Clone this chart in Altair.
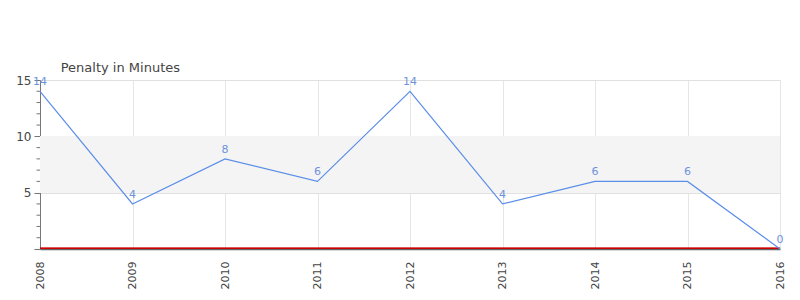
import altair as alt
import pandas as pd

years = [2008, 2009, 2010, 2011, 2012, 2013, 2014, 2015, 2016]
penalty = [14, 4, 8, 6, 14, 4, 6, 6, 0]
y_major = [0, 5, 10, 15]
y_minor = [1, 2, 3, 4, 6, 7, 8, 9, 11, 12, 13, 14]

df = pd.DataFrame({"year": years, "pim": penalty})
minor_df = pd.DataFrame({"v": y_minor})

W, H = 740, 169
line_color = "#5b8ee8"

x_enc = alt.X("year:Q", scale=alt.Scale(domain=[2008, 2016], nice=False, zero=False),
              axis=alt.Axis(values=years, format="d", labelAngle=-90, title=None,
                            labelFontSize=11, labelColor="#444", labelFont="DejaVu Sans",
                            labelAlign="right", labelBaseline="middle", labelPadding=12,
                            grid=True, gridColor="#e6e6e6", ticks=False,
                            domainColor="#666", domainWidth=1.5))
y_scale = alt.Scale(domain=[0, 15], nice=False)
y_axis = alt.Axis(values=y_major, title=None,
                  labelExpr="datum.value > 0 ? datum.label : ''",
                  labelFontSize=12, labelColor="#444", labelFont="DejaVu Sans",
                  labelPadding=3, grid=True, gridColor="#e0e0e0",
                  tickSize=6, tickColor="#777", domainColor="#777")

axis_layer = alt.Chart(df).mark_line(opacity=0).encode(
    x=x_enc,
    y=alt.Y("pim:Q", scale=y_scale, axis=y_axis),
)

band = alt.Chart(df).mark_rect(color="#f4f4f4").encode(
    y=alt.datum(5), y2=alt.datum(10), x=alt.value(0), x2=alt.value(W)
)

minor_ticks = alt.Chart(minor_df).mark_rule(color="#777", strokeWidth=1).encode(
    y="v:Q", x=alt.value(-3.5), x2=alt.value(0)
)

zero_rule = alt.Chart(df).mark_rule(color="#cc0000", strokeWidth=1).encode(
    y=alt.datum(0), x=alt.value(0), x2=alt.value(W), yOffset=alt.value(-0.6)
)

line = alt.Chart(df).mark_line(color=line_color, strokeWidth=1.2).encode(
    x="year:Q", y="pim:Q"
)

labels = alt.Chart(df).mark_text(color="#6f93db", fontSize=11, dy=-9,
                                 font="DejaVu Sans").encode(
    x="year:Q", y="pim:Q", text="pim:Q"
)

chart = alt.layer(axis_layer, band, minor_ticks, zero_rule, line, labels).properties(
    width=W, height=H,
    title=alt.TitleParams("Penalty in Minutes", anchor="start", fontSize=13,
                          font="DejaVu Sans", fontWeight="normal", color="#444",
                          offset=-1, dx=45),
    padding={"left": 40, "top": 80, "right": 20, "bottom": 51},
    autosize=alt.AutoSizeParams(type="none"),
).configure_view(stroke=None)

chart.save("out.html", embed_options={"renderer": "svg", "actions": False})
